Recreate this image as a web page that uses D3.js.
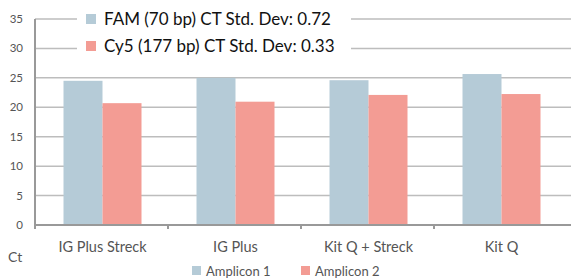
<!DOCTYPE html>
<html>
<head>
<meta charset="utf-8">
<script src="https://cdn.jsdelivr.net/npm/d3@7"></script>
<style>
  body { margin: 0; background: #fff; }
  svg { display: block; font-family: "Lato", "Open Sans", sans-serif; }
</style>
</head>
<body>
<div id="chart"></div>
<script>
var categories = ['IG Plus Streck', 'IG Plus', 'Kit Q + Streck', 'Kit Q'];
var amplicon1 = [24.5, 25.0, 24.6, 25.65];
var amplicon2 = [20.7, 20.95, 22.1, 22.25];
var seriesNames = ['Amplicon 1', 'Amplicon 2'];
var topLegend = ['FAM (70 bp) CT Std. Dev: 0.72', 'Cy5 (177 bp) CT Std. Dev: 0.33'];
var yTicks = [0, 5, 10, 15, 20, 25, 30, 35];

var W = 573, H = 279;
var colors = ['#b5cbd7', '#f39c94'];
var plotLeft = 35, plotRight = 567, plotTop = 19, plotBottom = 225;

var svg = d3.select('#chart').append('svg')
    .attr('width', W)
    .attr('height', H);

var x = d3.scaleBand().domain(categories).range([plotLeft, plotRight]);
var x1 = d3.scaleBand().domain(seriesNames).range([0, 78]);
var y = d3.scaleLinear().domain([0, 35]).range([plotBottom, plotTop]);

// gridlines
svg.append('g').selectAll('line')
    .data(yTicks.filter(function (d) { return d > 0; }))
    .enter().append('line')
    .attr('x1', plotLeft).attr('x2', 571)
    .attr('y1', function (d) { return y(d); })
    .attr('y2', function (d) { return y(d); })
    .attr('stroke', '#bdbdbd')
    .attr('stroke-width', 1.5);

// y tick labels
svg.append('g').selectAll('text')
    .data(yTicks)
    .enter().append('text')
    .attr('x', 23)
    .attr('y', function (d) { return y(d) + 4; })
    .attr('text-anchor', 'end')
    .attr('font-size', 11.5)
    .attr('fill', '#555')
    .text(function (d) { return d; });

// bars
var groups = svg.append('g').selectAll('g')
    .data(categories)
    .enter().append('g')
    .attr('transform', function (d) {
        return 'translate(' + (x(d) + x.bandwidth() / 2 - 39 + 1) + ',0)';
    });

groups.selectAll('rect')
    .data(function (d, i) {
        return [amplicon1[i], amplicon2[i]].map(function (v, k) {
            return { key: seriesNames[k], value: v, k: k };
        });
    })
    .enter().append('rect')
    .attr('x', function (d) { return x1(d.key); })
    .attr('width', x1.bandwidth())
    .attr('y', function (d) { return y(d.value); })
    .attr('height', function (d) { return plotBottom - y(d.value); })
    .attr('fill', function (d) { return colors[d.k]; });

// axes lines
svg.append('line')
    .attr('x1', plotLeft).attr('x2', plotLeft)
    .attr('y1', plotTop).attr('y2', plotBottom + 4)
    .attr('stroke', '#999').attr('stroke-width', 2);
svg.append('line')
    .attr('x1', plotLeft).attr('x2', 571)
    .attr('y1', plotBottom).attr('y2', plotBottom)
    .attr('stroke', '#999').attr('stroke-width', 2);

// category boundary ticks
svg.append('g').selectAll('line')
    .data(categories.slice(1))
    .enter().append('line')
    .attr('x1', function (d) { return x(d); })
    .attr('x2', function (d) { return x(d); })
    .attr('y1', plotBottom).attr('y2', plotBottom + 4)
    .attr('stroke', '#999').attr('stroke-width', 2);

// category labels
svg.append('g').selectAll('text')
    .data(categories)
    .enter().append('text')
    .attr('x', function (d) { return x(d) + x.bandwidth() / 2 + 1; })
    .attr('y', 252)
    .attr('text-anchor', 'middle')
    .attr('font-size', 14.5)
    .attr('fill', '#555')
    .text(function (d) { return d; });

svg.append('text')
    .attr('x', 8).attr('y', 262)
    .attr('font-size', 14)
    .attr('fill', '#555')
    .text('Ct');

// top legend
var tl = svg.append('g');
tl.append('rect')
    .attr('x', 77).attr('y', 8)
    .attr('width', 274).attr('height', 52)
    .attr('fill', '#fff');
tl.selectAll('.sq')
    .data(topLegend)
    .enter().append('rect')
    .attr('x', 86)
    .attr('y', function (d, i) { return 14 + i * 27; })
    .attr('width', 10).attr('height', 10)
    .attr('fill', function (d, i) { return colors[i]; });
tl.selectAll('text')
    .data(topLegend)
    .enter().append('text')
    .attr('x', 104)
    .attr('y', function (d, i) { return 25 + i * 27; })
    .attr('font-size', 17)
    .attr('fill', '#111')
    .text(function (d) { return d; });

// bottom legend
var legX = [192, 301];
var bl = svg.append('g').selectAll('g')
    .data(seriesNames)
    .enter().append('g');
bl.append('rect')
    .attr('x', function (d, i) { return legX[i]; })
    .attr('y', 266)
    .attr('width', 9).attr('height', 9)
    .attr('fill', function (d, i) { return colors[i]; });
bl.append('text')
    .attr('x', function (d, i) { return legX[i] + 14; })
    .attr('y', 276)
    .attr('font-size', 13)
    .attr('fill', '#555')
    .text(function (d) { return d; });
</script>
</body>
</html>
